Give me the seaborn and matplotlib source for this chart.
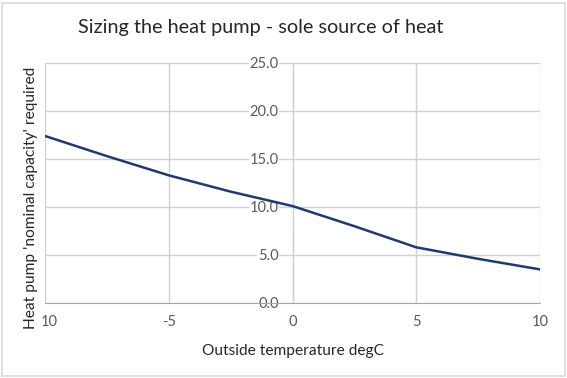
import numpy as np
import pandas as pd
import seaborn as sns
import matplotlib.pyplot as plt
import matplotlib.transforms as mtransforms
from matplotlib.patches import Rectangle

# outside temperature (degC) vs heat pump capacity required
temps = [-10, -7.5, -5, -2.5, 0, 2.5, 5, 7.5, 10]
capacity = [17.4, 15.3, 13.3, 11.6, 10.1, 8.0, 5.8, 4.6, 3.5]
x_ticks = [-10, -5, 0, 5, 10]
x_labels = ['10', '-5', '0', '5', '10']
y_ticks = [0, 5, 10, 15, 20, 25]

sns.set_style('white')
plt.rcParams['font.family'] = ['Lato', 'DejaVu Sans']

df = pd.DataFrame({'temp': temps, 'cap': capacity})

fig = plt.figure(figsize=(5.67, 3.78), dpi=100)
ax = fig.add_axes([45/567, 1-303/378, 495/567, 240/378])

sns.lineplot(data=df, x='temp', y='cap', color='#1f3a6e', linewidth=1.8, ax=ax)

ax.set_xlim(-10, 10)
ax.set_ylim(0, 25)
ax.set_xticks(x_ticks)
ax.set_xticklabels(x_labels)
ax.set_yticks(y_ticks)
ax.set_yticklabels(['%.1f' % v for v in y_ticks])
ax.grid(True, color='#d0d0d0', linewidth=1)
ax.set_axisbelow(True)

for s in ['top', 'right']:
    ax.spines[s].set_visible(False)
ax.spines['left'].set_position(('data', 0))
ax.spines['left'].set_color('#bfbfbf')
ax.spines['bottom'].set_color('#a6a6a6')
ax.spines['left'].set_zorder(0.5)

ax.tick_params(axis='both', length=0, labelsize=10.5, labelcolor='#595959')
ax.tick_params(axis='x', pad=9)
ax.tick_params(axis='y', pad=10)
for t in ax.get_yticklabels():
    t.set_bbox(dict(facecolor='white', edgecolor='none', pad=0.5))

# first x label sits a little right of its tick, clear of the y label
first = ax.get_xticklabels()[0]
first.set_transform(first.get_transform() +
                    mtransforms.ScaledTranslation(4/100, 0, fig.dpi_scale_trans))

ax.set_xlabel('Outside temperature degC', fontsize=11.2, color='#262626')
ax.xaxis.set_label_coords(0.5, -0.17)
ax.set_ylabel("Heat pump 'nominal capacity' required", fontsize=11.2, color='#262626')
ax.yaxis.set_label_coords(-0.014, 0.44)

fig.text(261/567, 1-28/378, 'Sizing the heat pump - sole source of heat',
         ha='center', va='center', fontsize=14.3, color='#262626')

fig.patches.append(Rectangle((2/567, 2/378), 563/567, 373/378, transform=fig.transFigure,
                             fill=False, edgecolor='#d9d9d9', linewidth=1.2))

fig.savefig('out.png', dpi=100)
